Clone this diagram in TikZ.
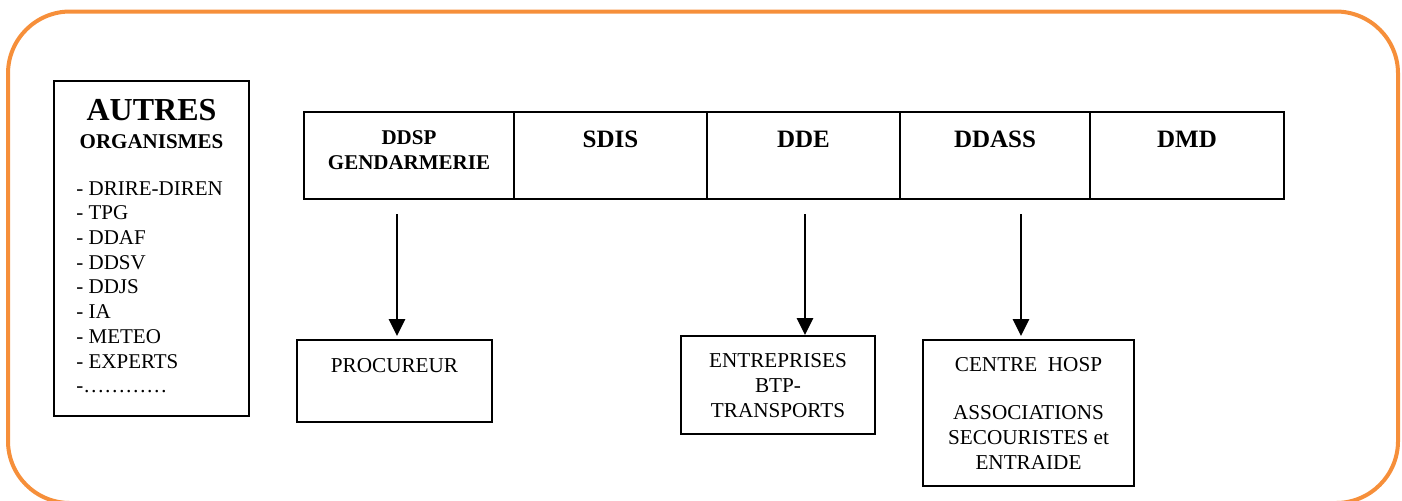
\documentclass[tikz,border=0pt]{standalone}
\usepackage{fontspec}
\setmainfont{Liberation Serif}
\usetikzlibrary{arrows.meta,positioning}
\definecolor{frameorange}{RGB}{246,143,58}
\tikzset{
  box/.style={draw, line width=0.7pt, inner sep=0pt, outer sep=0pt},
  cell/.style={box, minimum height=43.5pt},
  txt/.style={inner sep=0pt, align=center},
  head/.style={txt, font=\fontsize{12.5}{14}\selectfont\bfseries},
  body/.style={txt, font=\fontsize{10.6}{12.5}\selectfont},
  arrow/.style={line width=1.4pt, shorten >=2pt, -{Triangle[width=8pt,length=8.5pt]}},
}

\begin{document}
\begin{tikzpicture}[x=0.5pt,y=-0.5pt]
\useasboundingbox (0,0) rectangle (1402,500);
\draw[frameorange, line width=2pt, rounded corners=31pt] (8,11.5) rectangle (1398,503);

\node[box, minimum width=97.5pt, minimum height=167.5pt] (autres) at (151.5,248.5) {};
\node[txt, anchor=base, font=\fontsize{16}{18}\selectfont\bfseries] (autrestitle) at (151.5,120) {AUTRES};
\node[txt, anchor=base, font=\fontsize{10.5}{12}\selectfont\bfseries] (orgtitle) at (151.5,148) {ORGANISMES};
\node[txt, align=left, anchor=north west, font=\fontsize{10.5}{12.35}\selectfont] (orglist) at (76,181)
  {- DRIRE-DIREN\\- TPG\\- DDAF\\- DDSV\\- DDJS\\- IA\\- METEO\\- EXPERTS\\-…………};

\node[cell, minimum width=105pt] (ddsp) at (409,155.5) {};
\node[cell, minimum width=96.5pt, right=0pt of ddsp] (sdis) {};
\node[cell, minimum width=96.5pt, right=0pt of sdis] (dde) {};
\node[cell, minimum width=95pt, right=0pt of dde] (ddass) {};
\node[cell, minimum width=97pt, right=0pt of ddass] (dmd) {};

\node[txt, font=\fontsize{10.5}{12.5}\selectfont\bfseries, below=9pt of ddsp.north] (ddsplabel) {DDSP\\GENDARMERIE};
\node[head, below=9.5pt of sdis.north] (sdislabel) {SDIS};
\node[head, below=9.5pt of dde.north] (ddelabel) {DDE};
\node[head, below=9.5pt of ddass.north] (ddasslabel) {DDASS};
\node[head, below=9.5pt of dmd.north] (dmdlabel) {DMD};

\node[box, minimum width=97.5pt, minimum height=41pt] (proc) at (394.5,381) {};
\node[body, below=9pt of proc.north] (proclabel) {PROCUREUR};
\node[box, minimum width=97pt, minimum height=49pt] (entr) at (778,385) {};
\node[body, below=8.5pt of entr.north] (entrlabel) {ENTREPRISES\\BTP-\\TRANSPORTS};
\node[box, minimum width=105.5pt, minimum height=73pt] (hosp) at (1028.5,413) {};
\node[body, below=8.5pt of hosp.north] (hosplabel) {CENTRE\ \ HOSP\\[11.5pt]ASSOCIATIONS\\SECOURISTES et\\ENTRAIDE};

\coordinate (fromddsp) at (397,214);
\coordinate (fromdde) at (805,214);
\coordinate (fromddass) at (1021,214);
\draw[arrow] (fromddsp) -- (fromddsp |- proc.north);
\draw[arrow, shorten >=0.5pt] (fromdde) -- (fromdde |- entr.north);
\draw[arrow] (fromddass) -- (fromddass |- hosp.north);
\end{tikzpicture}
\end{document}
